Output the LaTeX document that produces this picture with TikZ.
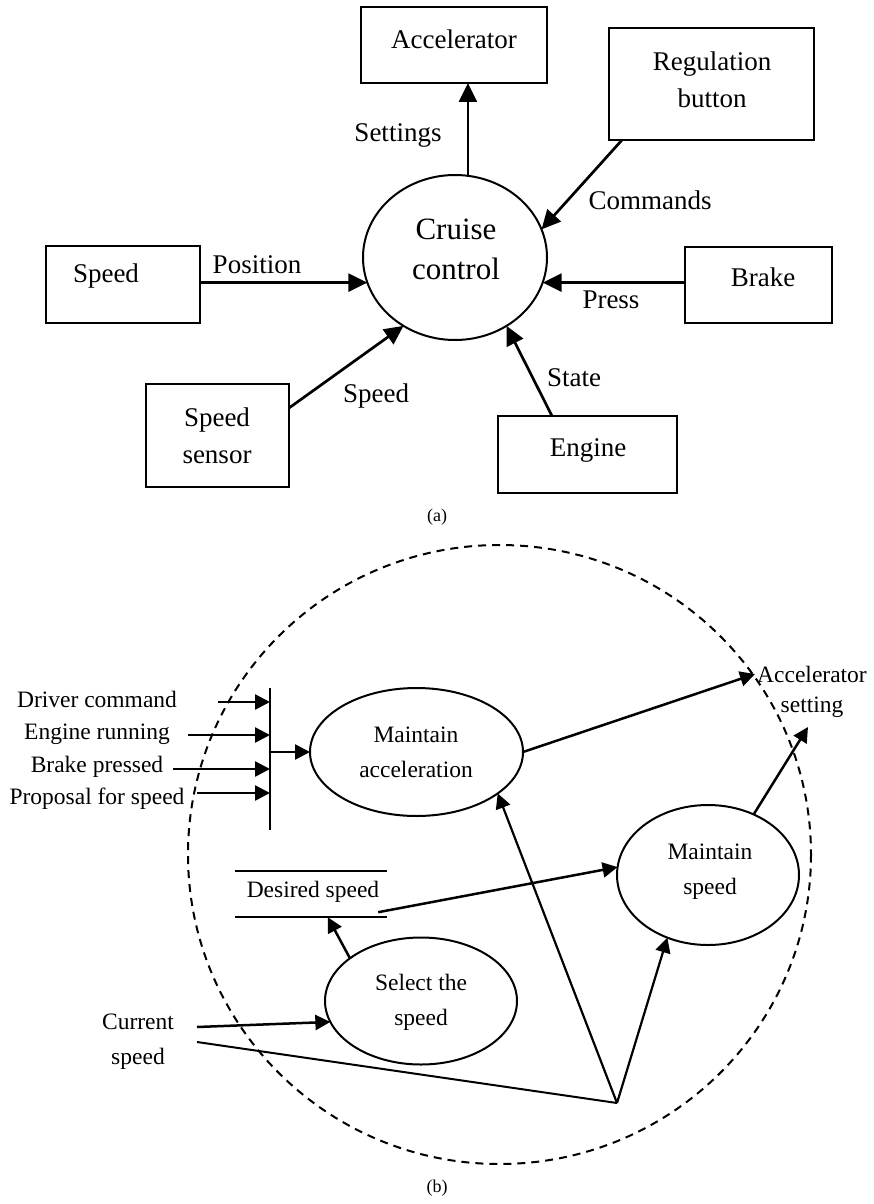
\documentclass[tikz,border=0pt]{standalone}
\usepackage{fontspec}
\setmainfont{Liberation Serif}
\usetikzlibrary{arrows.meta,calc,shapes.geometric}

\begin{document}
\begin{tikzpicture}[x=1pt,y=-1pt,
  box/.style={draw, line width=2pt, inner sep=0pt, outer sep=0pt},
  bubble/.style={draw, ellipse, line width=2pt, inner sep=0pt, outer sep=0pt},
  toptxt/.style={font=\fontsize{27}{37}\selectfont, align=center, inner sep=2pt},
  bigtxt/.style={font=\fontsize{31}{40}\selectfont, align=center, inner sep=2pt},
  bottxt/.style={font=\fontsize{23.5}{35}\selectfont, align=center, inner sep=2pt},
  captxt/.style={font=\fontsize{18}{22}\selectfont, inner sep=1pt},
  toparrow/.style={line width=2.7pt, -{Triangle[length=19pt,width=18pt]}},
  botarrow/.style={line width=2.5pt, -{Triangle[length=15pt,width=15pt]}},
  thinarrow/.style={line width=2.2pt, -{Triangle[length=15pt,width=15pt]}},
  plainline/.style={line width=2pt},
  boundary/.style={line width=2pt, dash pattern=on 8pt off 6pt},
]
\useasboundingbox (0,0) rectangle (873,1204);

% ---------------- (a) context diagram ----------------
\node[box, minimum width=186, minimum height=76]  (accel)  at (454,45) {};
\node[box, minimum width=205, minimum height=112] (reg)    at (711.5,84) {};
\node[box, minimum width=154, minimum height=77]  (speed)  at (123,284.5) {};
\node[box, minimum width=147, minimum height=76]  (brake)  at (758.5,285) {};
\node[box, minimum width=143, minimum height=103] (sensor) at (217.5,435.5) {};
\node[box, minimum width=179, minimum height=77]  (engine) at (587.5,454.5) {};
\node[bubble, minimum width=184, minimum height=165] (cruise) at (455,257.5) {};

\node[toptxt] (accelT)  at (454,39)  {Accelerator};
\node[toptxt] (regT)    at (712,80)  {Regulation\\button};
\node[toptxt] (speedT)  at (106,276) {Speed};
\node[toptxt] (brakeT)  at (763,277) {Brake};
\node[toptxt] (sensorT) at (217,436) {Speed\\sensor};
\node[toptxt] (engineT) at (588,450) {Engine};
\node[bigtxt] (cruiseT) at (456,249) {Cruise\\control};

\node[toptxt] (settingsL) at (398,135) {Settings};
\node[toptxt] (commandsL) at (650,200) {Commands};
\node[toptxt] (positionL) at (257,265) {Position};
\node[toptxt] (pressL)    at (611,300) {Press};
\node[toptxt] (speedL)    at (376,396) {Speed};
\node[toptxt] (stateL)    at (574,378) {State};
\node[captxt] (capA)      at (437,517) {(a)};

\draw[toparrow] (cruise.81) -- (cruise.81 |- accel.south);
\draw[toparrow] ($(reg.south west)+(13,0)$) -- (cruise.18);
\draw[toparrow] (speed.east |- cruise.196) -- (cruise.196);
\draw[toparrow] (brake.west |- cruise.-16) -- (cruise.-16);
\draw[toparrow] ($(sensor.east)+(0,-27.5)$) -- (cruise.233);
\draw[toparrow] ($(engine.north west)+(54,0)$) -- (cruise.307);

% ---------------- (b) process decomposition ----------------
\draw[boundary] (499.5,854.5) ellipse [x radius=311.5, y radius=309.5];

\node[bubble, minimum width=213, minimum height=128] (macc) at (416.5,752) {};
\node[bottxt] (maccT) at (416,752) {Maintain\\acceleration};
\node[bubble, minimum width=182, minimum height=140] (mspd) at (708,875) {};
\node[bottxt] (mspdT) at (710,872) {Maintain\\speed};
\node[bubble, minimum width=192, minimum height=127] (sel) at (421,1001) {};
\node[bottxt] (selT) at (421,1002) {Select the\\speed};

\node[minimum width=152, minimum height=46, inner sep=0pt] (ds) at (311,894) {};
\node[bottxt] (dsT) at (313,892) {Desired speed};
\draw[plainline] (ds.north west) -- (ds.north east);
\draw[plainline] (ds.south west) -- (ds.south east);

\node[bottxt] (drvT)  at (97,699) {Driver command};
\node[bottxt] (engT)  at (97,734) {Engine running};
\node[bottxt] (brkT)  at (97,767) {Brake pressed};
\node[bottxt] (propT) at (97,799) {Proposal for speed};
\node[bottxt] (curT)  at (138,1042) {Current\\speed};
\node[bottxt] (accT1) at (812,674) {Accelerator};
\node[bottxt] (accT2) at (812,707) {setting};
\node[captxt] (capB)  at (437,1188) {(b)};

\coordinate (barT)  at (270,688);
\coordinate (barB)  at (270,830);
\coordinate (drvS)  at (218,702);
\coordinate (engS)  at (188,735);
\coordinate (brkS)  at (173,769);
\coordinate (propS) at (197,793);
\coordinate (curA)  at (197,1027);
\coordinate (curB)  at (197,1042);
\coordinate (junc)  at (617,1103);
\coordinate (setIn) at (808,727);

\draw[plainline] (barT) -- (barB);
\draw[botarrow] (drvS)  -- (drvS -| barT);
\draw[botarrow] (engS)  -- (engS -| barT);
\draw[botarrow] (brkS)  -- (brkS -| barT);
\draw[botarrow] (propS) -- (propS -| barT);
\draw[botarrow] (barT |- macc.west) -- (macc.west);

\draw[botarrow] (macc.east) -- (accT1.west);
\draw[botarrow] (mspd.53.6) -- (setIn);
\draw[botarrow] ($(ds.south east)+(-9,-5)$) -- (mspd.175);
\draw[botarrow] (sel.149.5) -- ($(ds.south west)+(93,0)$);
\draw[botarrow] (curA) -- (sel.193);
\draw[plainline] (curB) -- (junc);
\draw[thinarrow] (junc) -- (macc.-27.3);
\draw[thinarrow] (junc) -- (mspd.237);
\end{tikzpicture}
\end{document}
